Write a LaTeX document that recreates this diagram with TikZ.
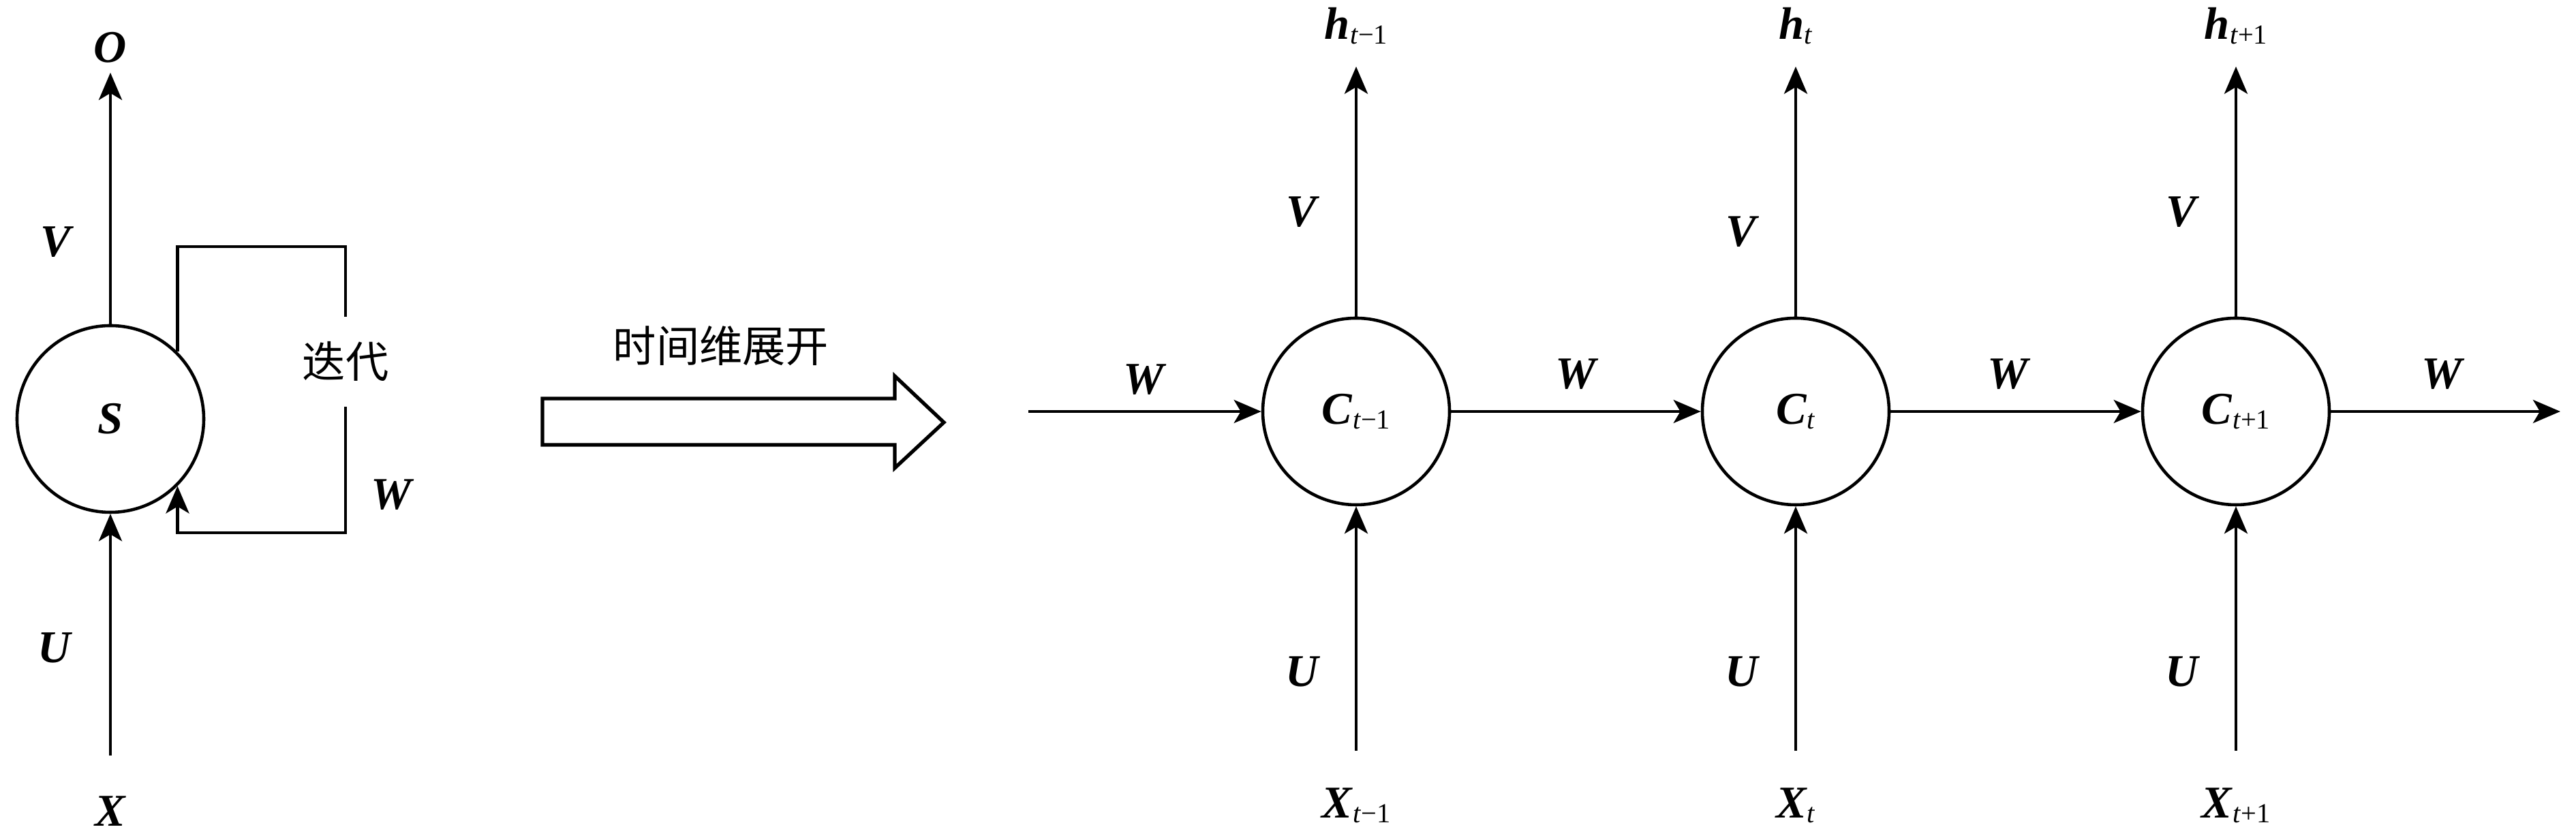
\documentclass[tikz,border=0pt]{standalone}
\usepackage{fontspec}
\setmainfont{Liberation Serif}
\newfontfamily\cjk{Noto Sans CJK SC}
\usetikzlibrary{arrows.meta, positioning, calc}

\newcommand{\bv}[1]{\textbf{\textit{#1}}}
\newcommand{\bvsub}[2]{\textbf{\textit{#1}}\raisebox{-0.1em}{\fontsize{11.5}{12}\selectfont\textit{t}#2}}

\begin{document}
\begin{tikzpicture}[
    cell/.style={circle, draw=black, line width=1.3pt, minimum size=2.74cm, inner sep=0pt, font=\fontsize{19}{22}\selectfont},
    arrow/.style={-{Stealth[length=4mm, width=3.4mm, inset=1mm]}, line width=1.3pt},
    wire/.style={line width=1.3pt},
    lab/.style={inner sep=0pt, text height=0.45cm, text depth=0.05cm, font=\fontsize{19}{22}\selectfont},
    cn/.style={inner sep=0pt, font=\cjk\fontsize{18}{20}\selectfont}
]
\useasboundingbox (0,0) rectangle (37.8,12.33);

% ==========================================
% LEFT: folded network
% ==========================================
\node[cell] (S) at (1.62,6.18) {\bv{S}};
\node[lab] (O) at (1.62,11.61) {\bv{O}};
\node[lab] (X) at (1.62,0.40) {\bv{X}};
\node[lab] (V) at (0.84,8.76) {\bv{V}};
\node[lab] (U) at (0.81,2.80) {\bv{U}};
\node[cn, minimum height=1.31cm] (iter) at (5.07,7.02) {迭代};
\node[lab] (Wl) at (5.76,5.05) {\bv{W}};
\coordinate (looptop) at (5.07,8.71);
\coordinate (loopbot) at (5.07,4.51);

\draw[arrow, shorten >=0.09cm] (S) -- (O);
\draw[arrow, shorten <=0.58cm] (X) -- (S);
\draw[wire] (S.45) |- (looptop) -- (iter.north);
\draw[arrow] (iter.south) -- (loopbot) -| (S.-45);

% ==========================================
% MIDDLE: unfold arrow
% ==========================================
\node[cn] (unfold) at (10.58,7.25) {时间维展开};
\draw[line width=1.5pt] (7.96,5.80) -- (7.96,6.48) -- (13.13,6.48) -- (13.13,6.81)
    -- (13.85,6.13) -- (13.13,5.46) -- (13.13,5.80) -- cycle;

% ==========================================
% RIGHT: unfolded in time
% ==========================================
\foreach \n/\x/\s/\vy in {1/19.90/{−1}/9.20, 2/26.35/{}/8.91, 3/32.81/{+1}/9.20} {
    \node[cell] (C\n) at (\x,6.29) {\bvsub{C}{\s}};
    \node[lab] (h\n) at (\x,11.95) {\bvsub{h}{\s}};
    \node[lab] (X\n) at (\x,0.52) {\bvsub{X}{\s}};
    \node[lab] (V\n) at (\x-0.78,\vy) {\bv{V}};
    \node[lab] (U\n) at (\x-0.78,2.45) {\bv{U}};
    \draw[arrow, shorten >=0.34cm] (C\n) -- (h\n);
    \draw[arrow, shorten <=0.53cm] (X\n) -- (C\n);
}

\coordinate (win) at (15.09,6.29);
\coordinate (wout) at (37.57,6.29);
\foreach \i/\j in {win/C1, C1/C2, C2/C3, C3/wout} {
    \draw[arrow] (\i) -- (\j);
}

\foreach \i/\wx/\wy in {a/16.80/6.74, b/23.14/6.82, c/29.48/6.82, d/35.85/6.82} {
    \node[lab] (W\i) at (\wx,\wy) {\bv{W}};
}

\end{tikzpicture}
\end{document}
